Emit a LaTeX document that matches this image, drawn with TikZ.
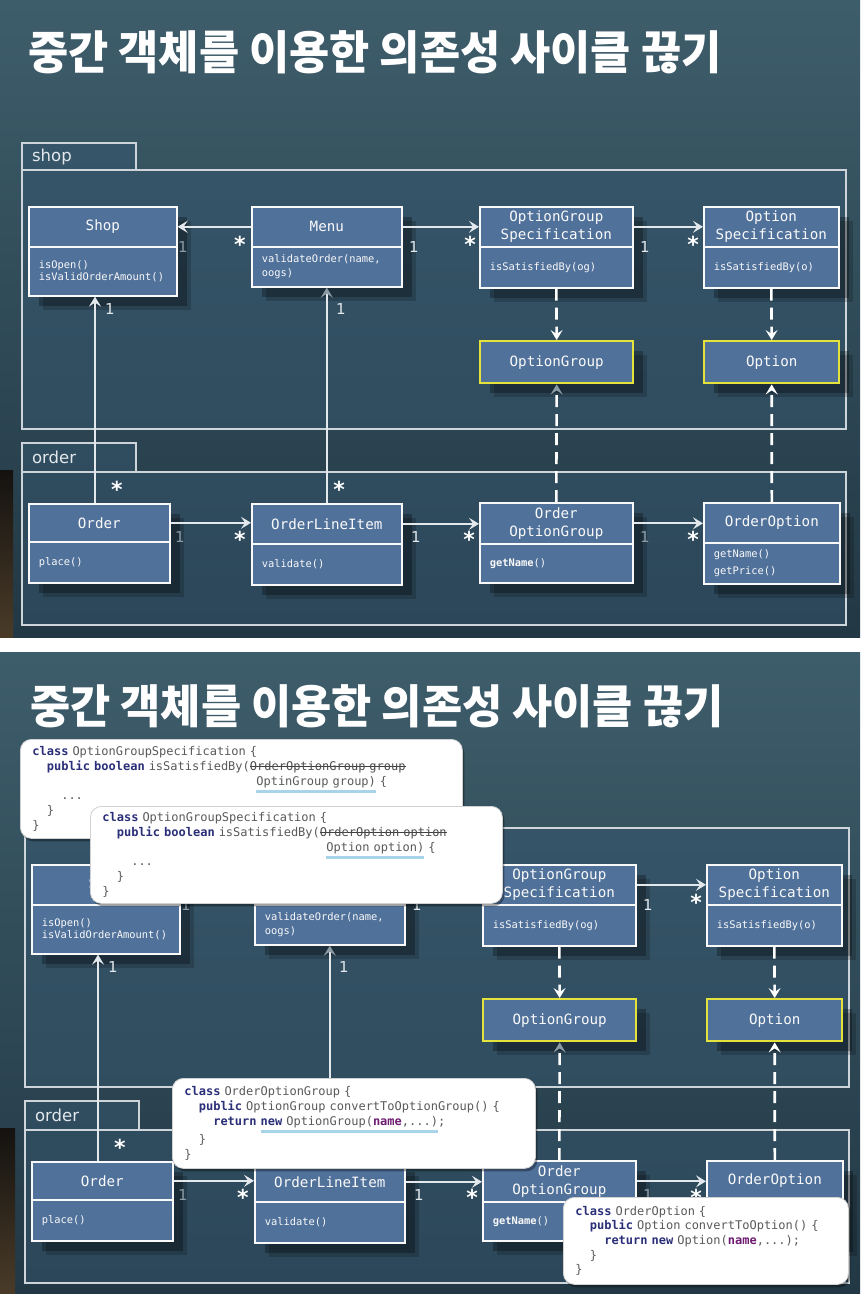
\documentclass[tikz,border=0pt]{standalone}
\usepackage{fontspec}
\usepackage{graphicx}
\usetikzlibrary{arrows.meta,shadows}
\setmainfont{DejaVu Sans}
\newfontfamily\monof{DejaVu Sans Mono}
\newfontfamily\sansf{DejaVu Sans}
\newfontfamily\krf{Noto Sans CJK KR}
\definecolor{bgtop}{HTML}{3E5D6B}
\definecolor{bgbot}{HTML}{223844}
\definecolor{pkgfill}{HTML}{36566F}
\definecolor{pkgline}{HTML}{CDD5DA}
\definecolor{clsfill}{HTML}{50719A}
\definecolor{ylw}{HTML}{E6E23C}
\definecolor{dimgray}{HTML}{8C9AA4}
\definecolor{lite}{HTML}{E2E8EC}
\definecolor{kwc}{HTML}{2A2F78}
\definecolor{codegray}{HTML}{5A5A5A}
\definecolor{purp}{HTML}{6E1D72}
\definecolor{ulblue}{HTML}{A9D3E8}
\definecolor{stripa}{HTML}{141210}
\definecolor{stripb}{HTML}{4A3B28}
\hyphenpenalty=10000
\exhyphenpenalty=10000
\newsavebox\cbox
\newcommand\cind[1]{\hspace*{\dimexpr 0.602em*#1\relax}}
\newcommand\kwd[1]{{\bfseries\color{kwc}#1}}
\newcommand\pvr[1]{{\bfseries\color{purp}#1}}
\newcommand\codeul[1]{\sbox\cbox{#1}\rlap{\color{ulblue}\rule[-8pt]{\wd\cbox}{3pt}}\usebox\cbox}
\newcommand\codest[1]{\sbox\cbox{\color{black!70}#1}\rlap{\color{black!75}\rule[3.3pt]{\wd\cbox}{1pt}}\usebox\cbox}
\tikzset{
  clsbox/.style={draw=white!95!gray, line width=1.6pt, fill=clsfill, inner sep=0pt,
    anchor=north west, text=white!96!gray,
    drop shadow={opacity=0.18, shadow xshift=14pt, shadow yshift=-14pt, fill=black},
    drop shadow={opacity=0.28, shadow xshift=10pt, shadow yshift=-10pt, fill=black}},
  hdr/.style={clsbox, font=\monof\fontsize{14.2}{18}\selectfont, align=center},
  bdy/.style={clsbox, inner xsep=10pt, font=\monof\fontsize{10.4}{#1}\selectfont, align=left},
  ybox/.style={hdr, draw=ylw, line width=2.4pt},
  pkgframe/.style={draw=pkgline, line width=2.2pt, fill=pkgfill, fill opacity=0.5,
    anchor=north west, inner sep=0pt},
  pkgtab/.style={pkgframe, text opacity=1, inner xsep=10pt, inner ysep=0pt, text width=94pt,
    align=left, font=\sansf\fontsize{16.5}{18}\selectfont, text=lite},
  arr/.style={draw=lite, line width=2.2pt, -{Stealth[length=10pt,width=12pt,inset=4pt]}},
  garr/.style={draw=lite, line width=2.2pt, -{Stealth[length=10pt,width=12pt,inset=4pt,color=dimgray]}},
  darr/.style={draw=white, line width=2.6pt, dash pattern=on 12pt off 7pt,
    -{Stealth[length=10pt,width=12pt,inset=4pt]}},
  gdarr/.style={draw=white, line width=2.6pt, dash pattern=on 12pt off 7pt,
    -{Stealth[length=10pt,width=12pt,inset=4pt,color=dimgray]}},
  onelbl/.style={font=\sansf\fontsize{15}{15}\selectfont, text=lite, inner sep=0pt, anchor=base},
  onegray/.style={onelbl, text=dimgray},
  starlbl/.style={font=\sansf\bfseries\fontsize{22}{22}\selectfont, text=white, inner sep=0pt, anchor=base},
  ttl/.style={font=\krf\bfseries\fontsize{46}{50}\selectfont, text=white, anchor=west, inner sep=0pt},
  codebox/.style={draw=black!18, fill=white, rounded corners=11pt, line width=0.8pt,
    anchor=north west, inner xsep=12pt, inner ysep=0pt, align=left,
    font=\monof\fontsize{12}{14.7}\selectfont, text=codegray,
    drop shadow={opacity=0.35, shadow xshift=2pt, shadow yshift=-3pt, fill=black}},
}
\newcommand\umldiagram{%
  \node[pkgframe, minimum width=824pt, minimum height=259pt] (shopfr) at (21,169) {};
  \node[pkgtab, minimum height=27pt] (shoptab) at (21,142) {shop};
  \node[pkgframe, minimum width=824pt, minimum height=153pt] (orderfr) at (21,471) {};
  \node[pkgtab, minimum height=29pt] (ordertab) at (21,442) {order};
  \node[hdr, minimum width=148pt, minimum height=40pt] (shoph) at (28,206) {Shop};
  \node[bdy=11.5, text width=128pt, minimum height=49pt] (shopb) at (28,246) {isOpen()\\isValidOrderAmount()};
  \node[hdr, minimum width=150pt, minimum height=40pt] (menuh) at (251,206) {Menu};
  \node[bdy=14, text width=130pt, minimum height=40pt] (menub) at (251,246) {validateOrder(name,\\oogs)};
  \node[hdr, minimum width=153pt, minimum height=40pt] (ogsh) at (479,206) {OptionGroup\\Specification};
  \node[bdy=13, text width=133pt, minimum height=41pt] (ogsb) at (479,246) {isSatisfiedBy(og)};
  \node[hdr, minimum width=135pt, minimum height=40pt] (osh) at (703,206) {Option\\Specification};
  \node[bdy=13, text width=115pt, minimum height=41pt] (osb) at (703,246) {isSatisfiedBy(o)};
  \node[ybox, minimum width=153pt, minimum height=42pt] (og) at (479,340) {OptionGroup};
  \node[ybox, minimum width=135pt, minimum height=42pt] (opt) at (703,340) {Option};
  \node[hdr, minimum width=141pt, minimum height=38pt] (orderh) at (28,503) {Order};
  \node[bdy=13, text width=121pt, minimum height=41pt] (orderb) at (28,541) {place()};
  \node[hdr, minimum width=150pt, minimum height=40pt] (olih) at (251,503) {OrderLineItem};
  \node[bdy=13, text width=130pt, minimum height=41pt] (olib) at (251,543) {validate()};
  \node[hdr, minimum width=153pt, minimum height=41pt] (oogh) at (479,502) {Order\\OptionGroup};
  \node[bdy=13, text width=133pt, minimum height=39pt] (oogb) at (479,543) {\textbf{getName}()};
  \node[hdr, minimum width=136pt, minimum height=40pt] (ooh) at (703,502) {OrderOption};
  \node[bdy=17, text width=116pt, minimum height=41pt] (oob) at (703,542) {getName()\\getPrice()};
  % connectors
  \draw[arr] (menuh.west) -- (shoph.east);
  \draw[arr] (menuh.east) -- (ogsh.west);
  \draw[arr] (ogsh.east) -- (osh.west);
  \draw[arr] ([xshift=67pt]orderh.north west) -- ([xshift=67pt]orderh.north west |- shopb.south);
  \draw[garr] (olih.north) -- (menub.south);
  \draw[arr] (orderh.east) -- (orderh.east -| olih.west);
  \draw[arr] (olih.east) -- (olih.east -| oogh.west);
  \draw[arr] (oogh.east) -- (oogh.east -| ooh.west);
  \draw[darr] (ogsb.south) -- (og.north);
  \draw[darr] (osb.south) -- (opt.north);
  \draw[gdarr] (oogh.north) -- (og.south);
  \draw[darr] (ooh.north) -- (opt.south);
  % multiplicities
  \node[onegray] (m1) at (183,252) {1};
  \node[starlbl] (m2) at (240,252.5) {*};
  \node[onelbl] (m3) at (414,252) {1};
  \node[starlbl] (m4) at (470,252.5) {*};
  \node[onelbl] (m5) at (645,252) {1};
  \node[starlbl] (m6) at (693,252.5) {*};
  \node[onelbl] (m7) at (110,314) {1};
  \node[onelbl] (m8) at (341,314) {1};
  \node[starlbl] (m9) at (117,497.5) {*};
  \node[starlbl] (m10) at (339,497.5) {*};
  \node[onegray] (m11) at (180,542) {1};
  \node[starlbl] (m12) at (240,547.5) {*};
  \node[onelbl] (m13) at (416,542) {1};
  \node[starlbl] (m14) at (469,547.5) {*};
  \node[onegray] (m15) at (645,542) {1};
  \node[starlbl] (m16) at (693,547.5) {*};
}
\begin{document}
\begin{tikzpicture}[x=1pt,y=-1pt]
\useasboundingbox (0,0) rectangle (860,1294);
\fill[white] (0,0) rectangle (860,1294);
% top panel
\shade[top color=bgtop, bottom color=bgbot] (0,0) rectangle (860,637);
\shade[top color=stripa, bottom color=stripb] (0,470) rectangle (13,637);
\node[ttl] (title1) at (28,52) {\scalebox{0.95}[1]{중간 객체를 이용한 의존성 사이클 끊기}};
\begin{scope}[name prefix=a-]
\umldiagram
\end{scope}
% bottom panel
\shade[top color=bgtop, bottom color=bgbot] (0,652) rectangle (860,1294);
\shade[top color=stripa, bottom color=stripb] (0,1128) rectangle (15,1294);
\node[ttl] (title2) at (30,706) {\scalebox{0.95}[1]{중간 객체를 이용한 의존성 사이클 끊기}};
\begin{scope}[shift={(3,658)}, name prefix=b-]
\umldiagram
\end{scope}
% code boxes
\node[codebox, text width=418pt, minimum height=99pt] (code1) at (20,739) {%
\kwd{class} OptionGroupSpecification \{\\
\cind{2}\kwd{public boolean} isSatisfiedBy(\codest{OrderOptionGroup group}\\
\cind{31}\codeul{OptinGroup group)} \{\\
\cind{4}...\\
\cind{2}\}\\
\}};
\node[codebox, text width=388pt, minimum height=97pt] (code2) at (90,806) {%
\kwd{class} OptionGroupSpecification \{\\
\cind{2}\kwd{public boolean} isSatisfiedBy(\codest{OrderOption option}\\
\cind{31}\codeul{Option option)} \{\\
\cind{4}...\\
\cind{2}\}\\
\}};
\node[codebox, text width=339pt, minimum height=90pt] (code3) at (172,1078) {%
\kwd{class} OrderOptionGroup \{\\
\cind{2}\kwd{public} OptionGroup convertToOptionGroup() \{\\
\cind{4}\kwd{return} \codeul{\kwd{new} OptionGroup(\pvr{name},...)};\\
\cind{2}\}\\
\}};
\node[codebox, text width=261pt, minimum height=87pt] (code4) at (563,1197) {%
\kwd{class} OrderOption \{\\
\cind{2}\kwd{public} Option convertToOption() \{\\
\cind{4}\kwd{return} \kwd{new} Option(\pvr{name},...);\\
\cind{2}\}\\
\}};
\end{tikzpicture}
\end{document}
